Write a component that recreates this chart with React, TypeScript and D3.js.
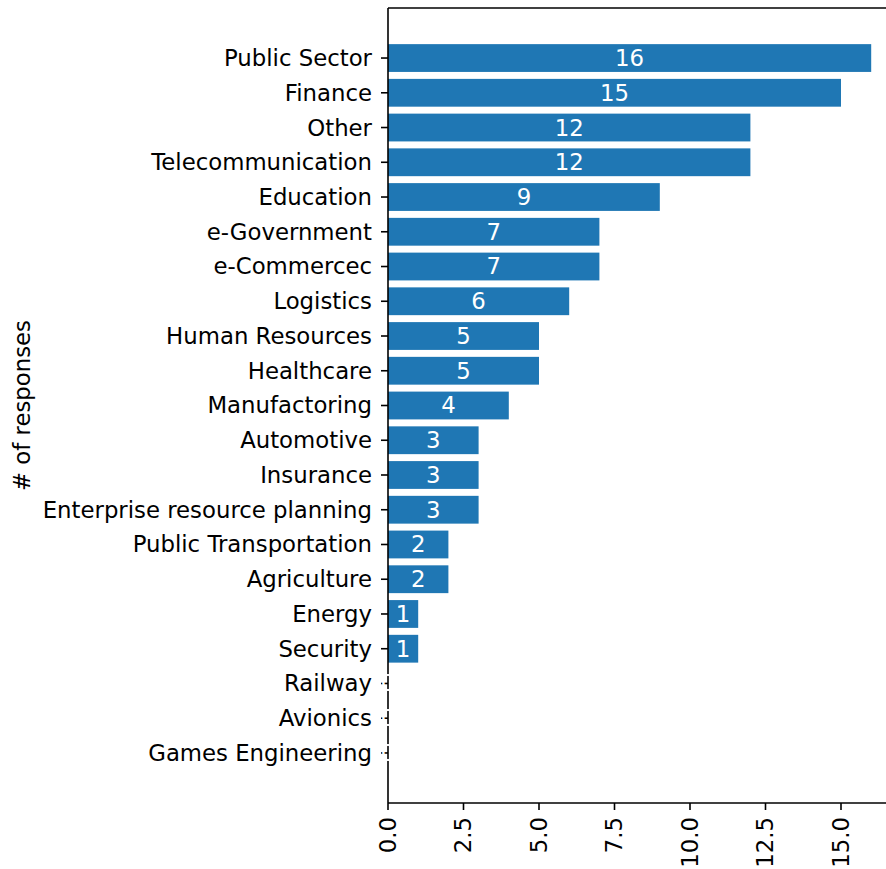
import React from 'react';
import * as d3 from 'd3';

// categories listed bottom to top (as matplotlib barh draws them)
const categories: string[] = [
  'Games Engineering',
  'Avionics',
  'Railway',
  'Security',
  'Energy',
  'Agriculture',
  'Public Transportation',
  'Enterprise resource planning',
  'Insurance',
  'Automotive',
  'Manufactoring',
  'Healthcare',
  'Human Resources',
  'Logistics',
  'e-Commercec',
  'e-Government',
  'Education',
  'Telecommunication',
  'Other',
  'Finance',
  'Public Sector',
];
const responses: number[] = [0, 0, 0, 1, 1, 2, 2, 3, 3, 3, 4, 5, 5, 6, 7, 7, 9, 12, 12, 15, 16];
const xTicks: number[] = [0, 2.5, 5, 7.5, 10, 12.5, 15];

const W = 886;
const H = 869;
const left = 388;
const top = 8;
const bottom = 803;
const font = 'DejaVu Sans, sans-serif';
const fs = 22.8;

export default function App() {
  const n = categories.length;
  const xMax = 16 * 1.05;
  const x = d3.scaleLinear().domain([0, xMax]).range([left, left + xMax * 30.2]);
  const pad = 0.05 * (n - 1 + 0.8);
  const y = d3
    .scaleLinear()
    .domain([-0.4 - pad, n - 1 + 0.4 + pad])
    .range([bottom, top]);
  const bh = y(0) - y(0.8);

  return (
    <svg width={W} height={H} style={{ position: 'absolute', left: 0, top: 0, background: '#fff' }}>
      <rect x={0} y={0} width={W} height={H} fill="#fff" />
      {categories.map((c, i) => (
        <rect
          key={c}
          x={x(0)}
          y={y(i + 0.4)}
          width={x(responses[i]) - x(0)}
          height={bh}
          fill="#1f77b4"
        />
      ))}
      {/* spines */}
      <line x1={left} x2={left} y1={top} y2={bottom} stroke="#000" strokeWidth={1.6} />
      <line x1={left} x2={W + 10} y1={bottom} y2={bottom} stroke="#000" strokeWidth={1.6} />
      <line x1={left} x2={W + 10} y1={top} y2={top} stroke="#000" strokeWidth={1.6} />
      {/* y ticks */}
      {categories.map((c, i) => (
        <g key={'t' + c}>
          <line x1={left - 7} x2={left} y1={y(i)} y2={y(i)} stroke="#000" strokeWidth={1.6} />
          <text
            x={left - 16}
            y={y(i)}
            dy="0.35em"
            textAnchor="end"
            fontFamily={font}
            fontSize={fs}
            fill="#000"
          >
            {c}
          </text>
        </g>
      ))}
      {/* x ticks */}
      {xTicks.map(t => (
        <g key={'x' + t}>
          <line x1={x(t)} x2={x(t)} y1={bottom} y2={bottom + 7} stroke="#000" strokeWidth={1.6} />
          <text
            transform={`translate(${x(t)},${bottom + 14}) rotate(-90)`}
            dy="0.35em"
            textAnchor="end"
            fontFamily={font}
            fontSize={fs}
            fill="#000"
          >
            {t.toFixed(1)}
          </text>
        </g>
      ))}
      {/* bar labels */}
      {categories.map((c, i) => (
        <text
          key={'l' + c}
          x={(x(0) + x(responses[i])) / 2}
          y={y(i)}
          dy="0.35em"
          textAnchor="middle"
          fontFamily={font}
          fontSize={fs}
          fill="#fff"
        >
          {responses[i]}
        </text>
      ))}
      <text
        transform={`translate(22,${(top + bottom) / 2}) rotate(-90)`}
        dy="0.35em"
        textAnchor="middle"
        fontFamily={font}
        fontSize={fs}
        fill="#000"
      >
        # of responses
      </text>
    </svg>
  );
}
